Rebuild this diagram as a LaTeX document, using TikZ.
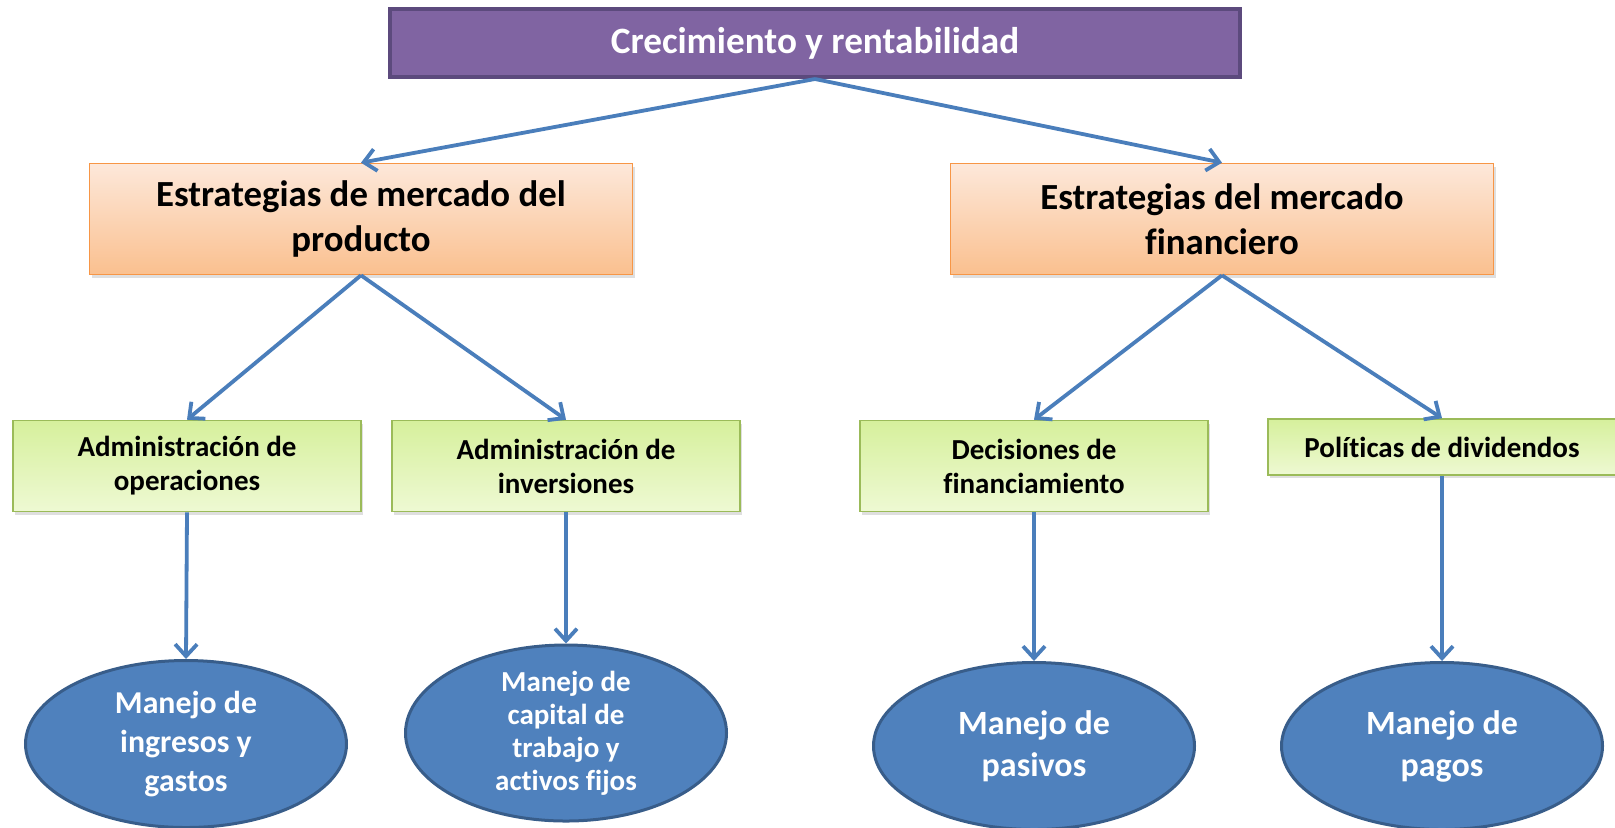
\documentclass[tikz,border=0pt]{standalone}
\usepackage{fontspec}
\setmainfont{Carlito}[Ligatures=NoCommon]
\usetikzlibrary{arrows.meta,shapes.geometric,shadows}

\definecolor{purpFill}{HTML}{8064A2}
\definecolor{purpLine}{HTML}{5C4A7D}
\definecolor{orTop}{HTML}{FDE8DA}
\definecolor{orBot}{HTML}{FAC08F}
\definecolor{orLine}{HTML}{F79646}
\definecolor{grTop}{HTML}{D6F09C}
\definecolor{grBot}{HTML}{EEF9D3}
\definecolor{grLine}{HTML}{9BBB59}
\definecolor{blFill}{HTML}{4F81BD}
\definecolor{blLine}{HTML}{385D8A}
\definecolor{arrLine}{HTML}{4A7EBB}

\begin{document}
\begin{tikzpicture}[x=0.5pt,y=-0.5pt,
    topbox/.style={draw=purpLine,line width=2pt,fill=purpFill,text=white,
      minimum width=425pt,minimum height=34pt,inner sep=0pt,
      font=\bfseries\fontsize{18.6}{22}\selectfont},
    stratbox/.style={draw=orLine,line width=0.8pt,top color=orTop,bottom color=orBot,
      minimum width=271.5pt,minimum height=55.5pt,inner sep=0pt,align=center,
      font=\bfseries\fontsize{18.4}{22.5}\selectfont,
      drop shadow={opacity=0.25,shadow xshift=1pt,shadow yshift=-1.5pt}},
    admbox/.style={draw=grLine,line width=0.8pt,top color=grTop,bottom color=grBot,
      minimum width=174pt,minimum height=45.5pt,inner sep=0pt,align=center,
      font=\bfseries\fontsize{14.5}{17}\selectfont,
      drop shadow={opacity=0.25,shadow xshift=1pt,shadow yshift=-1.5pt}},
    manejo/.style={ellipse,draw=blLine,line width=1.5pt,fill=blFill,text=white,
      minimum width=160.5pt,minimum height=83.5pt,inner sep=0pt,align=center},
    flecha/.style={draw=arrLine,line width=1.9pt,
      -{Straight Barb[length=6pt,width=11pt]}}]

    \useasboundingbox (0,0) rectangle (1615,827);

    \coordinate (TopC)   at (815,43);
    \coordinate (ProdC)  at (361,219);
    \coordinate (FinC)   at (1222,219);

    % first row
    \node[topbox] (crec) at (TopC) {Crecimiento y rentabilidad};

    % strategies
    \node[stratbox] (prod) at (ProdC) {Estrategias de mercado del\\producto};
    \node[stratbox] (fin) at (FinC) {Estrategias del mercado\\financiero};

    % administration boxes
    \node[admbox] (oper) at (187,466) {Administración de\\operaciones};
    \node[admbox] (inv) at (566,466) {Administración de\\inversiones};
    \node[admbox] (dec) at (1034,466) {Decisiones de\\financiamiento};
    \node[admbox,minimum height=28pt] (pol) at (1442,447) {Políticas de dividendos};

    % ellipses
    \node[manejo,font=\bfseries\fontsize{15.9}{19.5}\selectfont]
        (ingr) at (186,744) {Manejo de\\ingresos y\\gastos};
    \node[manejo,minimum height=88pt,font=\bfseries\fontsize{14.5}{16.5}\selectfont]
        (capt) at (566,733) {Manejo de\\capital de\\trabajo y\\activos fijos};
    \node[manejo,font=\bfseries\fontsize{17}{21}\selectfont]
        (pasv) at (1034,746) {Manejo de\\pasivos};
    \node[manejo,font=\bfseries\fontsize{17}{21}\selectfont]
        (pago) at (1442,746) {Manejo de\\pagos};

    \foreach \a/\b in {crec/prod,crec/fin,prod/oper,prod/inv,fin/dec,fin/pol}{%
      \draw[flecha] (\a.south) -- (\b.north);% strategy arrows
    }
    \foreach \a/\b in {oper/ingr,inv/capt,dec/pasv,pol/pago}{%
      \draw[flecha] (\a.south) -- (\b.north);% straight down
    }
\end{tikzpicture}
\end{document}
